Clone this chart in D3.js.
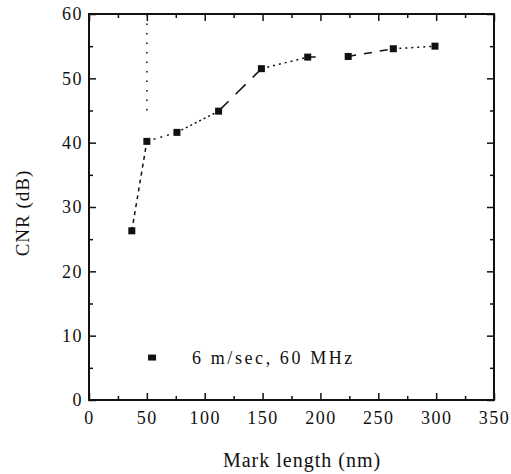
<!DOCTYPE html>
<html>
<head>
<meta charset="utf-8">
<script src="https://cdn.jsdelivr.net/npm/d3@7"></script>
<style>
  body { margin: 0; background: #fff; }
  text { font-family: "Liberation Serif", "DejaVu Serif", serif; fill: #111; }
</style>
</head>
<body>
<div id="chart"></div>
<script>
// data
const markLength = [37, 50, 76, 112, 149, 189, 224, 263, 299];
const cnr = [26.3, 40.2, 41.6, 44.9, 51.5, 53.3, 53.4, 54.6, 55.0];
const xTicks = [0, 50, 100, 150, 200, 250, 300, 350];
const yTicks = [0, 10, 20, 30, 40, 50, 60];
const cutoffX = 50;
const cutoffY = [60, 45];
const legendLabel = "6 m/sec, 60 MHz";

// dash pattern of each segment between neighbouring points
const segDash = ["4,4", "2,5", "2,3", "14,10", "2,4", "8,30", "8,8", "2,4"];

const width = 511, height = 474;
const margin = {top: 14, right: 17, bottom: 74, left: 89};
const w = width - margin.left - margin.right;
const h = height - margin.top - margin.bottom;

const svg = d3.select("#chart").append("svg")
    .attr("width", width)
    .attr("height", height);

const g = svg.append("g")
    .attr("transform", `translate(${margin.left},${margin.top})`);

const x = d3.scaleLinear().domain([0, 350]).range([0, w]);
const y = d3.scaleLinear().domain([0, 60]).range([h, 0]);

// axes, ticks pointing inward
const minorX = d3.range(25, 350, 50);
const minorY = d3.range(5, 60, 10);

function styleAxis(sel) {
    sel.select(".domain").remove();
    sel.selectAll("line").attr("stroke", "#111").attr("stroke-width", 1.5);
    sel.selectAll("text")
        .style("font-size", "18px")
        .style("letter-spacing", "1.5px");
}

g.append("g").attr("transform", `translate(0,${h})`)
    .call(d3.axisBottom(x).tickValues(xTicks).tickSize(-7).tickPadding(11))
    .call(styleAxis);
g.append("g").attr("transform", `translate(0,${h})`)
    .call(d3.axisBottom(x).tickValues(minorX).tickSize(-4).tickFormat(""))
    .call(styleAxis);
g.append("g")
    .call(d3.axisTop(x).tickValues(xTicks).tickSize(-7).tickFormat(""))
    .call(styleAxis);
g.append("g")
    .call(d3.axisTop(x).tickValues(minorX).tickSize(-4).tickFormat(""))
    .call(styleAxis);

g.append("g")
    .call(d3.axisLeft(y).tickValues(yTicks).tickSize(-7).tickPadding(6))
    .call(styleAxis);
g.append("g")
    .call(d3.axisLeft(y).tickValues(minorY).tickSize(-4).tickFormat(""))
    .call(styleAxis);
g.append("g").attr("transform", `translate(${w},0)`)
    .call(d3.axisRight(y).tickValues(yTicks).tickSize(-7).tickFormat(""))
    .call(styleAxis);
g.append("g").attr("transform", `translate(${w},0)`)
    .call(d3.axisRight(y).tickValues(minorY).tickSize(-4).tickFormat(""))
    .call(styleAxis);

// frame
g.append("rect")
    .attr("width", w).attr("height", h)
    .attr("fill", "none")
    .attr("stroke", "#111")
    .attr("stroke-width", 2);

// vertical dotted cutoff line
g.append("line")
    .attr("x1", x(cutoffX)).attr("x2", x(cutoffX))
    .attr("y1", y(cutoffY[0])).attr("y2", y(cutoffY[1]))
    .attr("stroke", "#111")
    .attr("stroke-width", 1.5)
    .attr("stroke-dasharray", "1.5,8");

// connecting segments
const pts = markLength.map((d, i) => [d, cnr[i]]);
for (let i = 0; i < pts.length - 1; i++) {
    g.append("line")
        .attr("x1", x(pts[i][0])).attr("y1", y(pts[i][1]))
        .attr("x2", x(pts[i + 1][0])).attr("y2", y(pts[i + 1][1]))
        .attr("stroke", "#111")
        .attr("stroke-width", 1.5)
        .attr("stroke-dasharray", segDash[i]);
}

// markers
g.selectAll(".pt")
    .data(pts)
    .enter().append("rect")
    .attr("class", "pt")
    .attr("x", d => x(d[0]) - 3.5)
    .attr("y", d => y(d[1]) - 3.5)
    .attr("width", 7)
    .attr("height", 7)
    .attr("fill", "#111");

// legend
g.append("rect")
    .attr("x", x(54.5) - 4).attr("y", y(6.6) - 3)
    .attr("width", 8).attr("height", 6)
    .attr("fill", "#111");
g.append("text")
    .attr("x", x(89))
    .attr("y", y(6.6) + 6)
    .style("font-size", "18px")
    .style("letter-spacing", "2.6px")
    .text(legendLabel);

// axis labels
svg.append("text")
    .attr("x", 302)
    .attr("y", 467)
    .attr("text-anchor", "middle")
    .style("font-size", "20px")
    .style("letter-spacing", "1px")
    .text("Mark length (nm)");

svg.append("text")
    .attr("transform", `translate(29,213) rotate(-90)`)
    .attr("text-anchor", "middle")
    .style("font-size", "19px")
    .style("letter-spacing", "1px")
    .text("CNR (dB)");
</script>
</body>
</html>
